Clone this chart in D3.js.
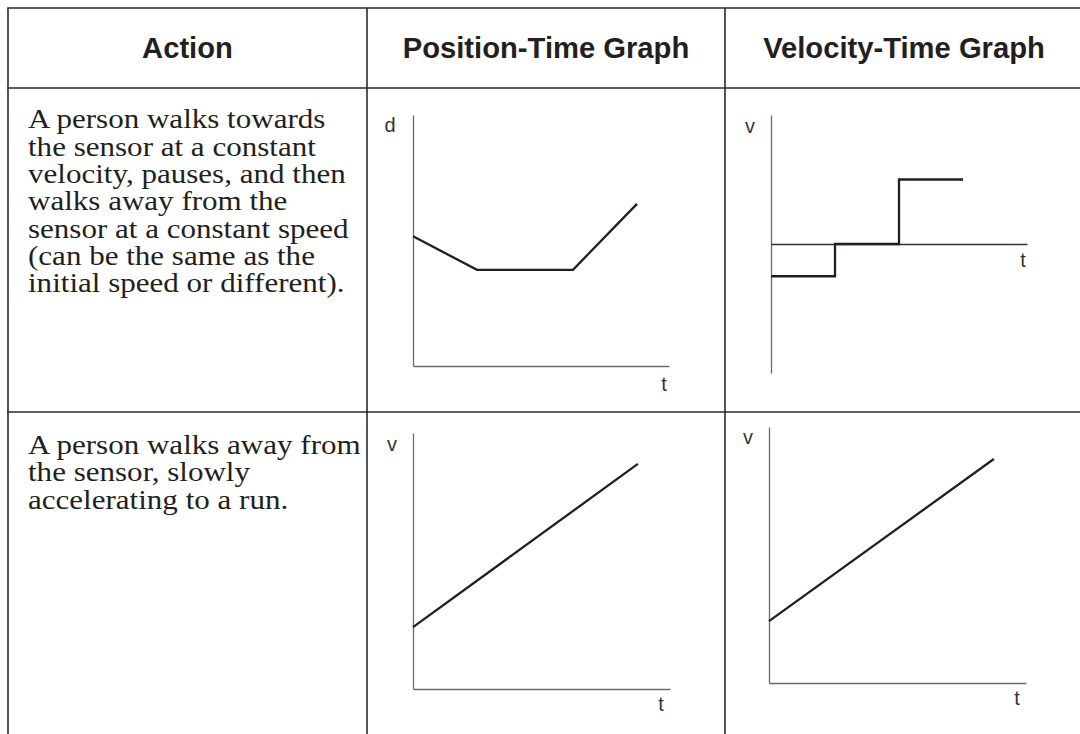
<!DOCTYPE html>
<html><head><meta charset="utf-8">
<script src="https://cdn.jsdelivr.net/npm/d3@7"></script>
<style>
html,body{margin:0;padding:0;background:#fff;overflow:hidden;}
svg{display:block;}
</style></head>
<body>
<svg id="chart" width="1080" height="734"></svg>
<script>
// ---- data ----
const headers = ["Action", "Position-Time Graph", "Velocity-Time Graph"];
const actionRow1 = ["A person walks towards", "the sensor at a constant", "velocity, pauses, and then",
  "walks away from the", "sensor at a constant speed", "(can be the same as the", "initial speed or different)."];
const actionRow2 = ["A person walks away from", "the sensor, slowly", "accelerating to a run."];

// Row 1, position-time (d vs t)
const pt1_t = [0, 3, 7.5, 10.5];
const pt1_d = [6.2, 4.6, 4.6, 7.75];
// Row 1, velocity-time (v vs t), step segments
const vt1_t = [0, 3, 6, 9];
const vt1_v = [-1.5, 0, 3, 3];
// Row 2, position-time panel (labelled v)
const pt2_t = [0, 10.5];
const pt2_v = [2.9, 10.55];
// Row 2, velocity-time
const vt2_t = [0, 10.5];
const vt2_v = [2.9, 10.5];

const axisLabels = [["d","t"],["v","t"],["v","t"],["v","t"]];

// ---- layout ----
const svg = d3.select("#chart");
const colX = [8, 367, 725, 1083];
const rowY = [8, 88, 412, 740];
const lineCol = "#231f20";

// table grid
const grid = svg.append("g").attr("stroke", "#2a2a2a").attr("stroke-width", 1.6).attr("fill","none");
rowY.slice(0,3).forEach(y => grid.append("line").attr("x1", colX[0]-0.8).attr("x2", colX[3]).attr("y1", y).attr("y2", y));
colX.forEach(x => grid.append("line").attr("x1", x).attr("x2", x).attr("y1", rowY[0]).attr("y2", rowY[3]));

// headers
headers.forEach((h, i) => {
  svg.append("text").attr("x", (colX[i]+colX[i+1])/2).attr("y", 58)
    .attr("text-anchor","middle").attr("font-family","'Liberation Sans', Arial, sans-serif")
    .attr("font-weight","bold").attr("font-size", 29.2).attr("fill", lineCol).text(h);
});

// action texts
const sx = 1.15;
function para(lines, y0) {
  const t = svg.append("text").attr("font-family","'Liberation Serif', 'Times New Roman', serif")
    .attr("font-size", 27).attr("fill", lineCol)
    .attr("transform", `translate(28,0) scale(${sx},1)`);
  lines.forEach((l, i) => t.append("tspan").attr("x", 0).attr("y", y0 + i*27.3).text(l));
}
para(actionRow1, 128.5);
para(actionRow2, 454);

// panels
function panel(cfg) {
  const g = svg.append("g");
  const x = d3.scaleLinear().domain(cfg.xd).range(cfg.xr);
  const y = d3.scaleLinear().domain(cfg.yd).range(cfg.yr);
  g.append("g").attr("transform", `translate(${x(0)},0)`)
    .call(d3.axisLeft(y).ticks(0).tickSize(0).tickSizeOuter(0))
    .call(a => a.select(".domain").attr("stroke", "#6a6a6a").attr("stroke-width", 1.3));
  g.append("g").attr("transform", `translate(0,${y(0)})`)
    .call(d3.axisBottom(x).ticks(0).tickSize(0).tickSizeOuter(0))
    .call(a => a.select(".domain").attr("stroke", cfg.xAxisCol || "#6a6a6a").attr("stroke-width", 1.3));
  g.selectAll(".tick").remove();
  const pts = cfg.tx.map((t, i) => [t, cfg.ty[i]]);
  const line = d3.line().x(d => x(d[0])).y(d => y(d[1])).curve(cfg.curve || d3.curveLinear);
  g.append("path").attr("d", line(pts)).attr("fill","none").attr("stroke", lineCol)
    .attr("stroke-width", 2.3).attr("stroke-linejoin","miter");
  const lf = "'Liberation Sans', Arial, sans-serif";
  g.append("text").attr("x", cfg.yl[0]).attr("y", cfg.yl[1]).attr("text-anchor","middle")
    .attr("font-family", lf).attr("font-size", 20).attr("fill","#333").text(cfg.labels[0]);
  g.append("text").attr("x", cfg.xl[0]).attr("y", cfg.xl[1]).attr("text-anchor","middle")
    .attr("font-family", lf).attr("font-size", 20).attr("fill","#333").text(cfg.labels[1]);
}

panel({xd:[0,12], xr:[413,669], yd:[0,12], yr:[366,115], tx:pt1_t, ty:pt1_d,
  labels:axisLabels[0], yl:[390,132], xl:[664,391]});
panel({xd:[0,12], xr:[771,1027], yd:[-6,6], yr:[373,115], tx:vt1_t, ty:vt1_v, curve:d3.curveStepAfter,
  xAxisCol:"#333", labels:axisLabels[1], yl:[750,133], xl:[1023,267]});
panel({xd:[0,12], xr:[413,670], yd:[0,12], yr:[689,433], tx:pt2_t, ty:pt2_v,
  labels:axisLabels[2], yl:[392,451], xl:[661,711]});
panel({xd:[0,12], xr:[769,1026], yd:[0,12], yr:[683,427], tx:vt2_t, ty:vt2_v,
  labels:axisLabels[3], yl:[748,444], xl:[1017,705]});
</script>
</body></html>
